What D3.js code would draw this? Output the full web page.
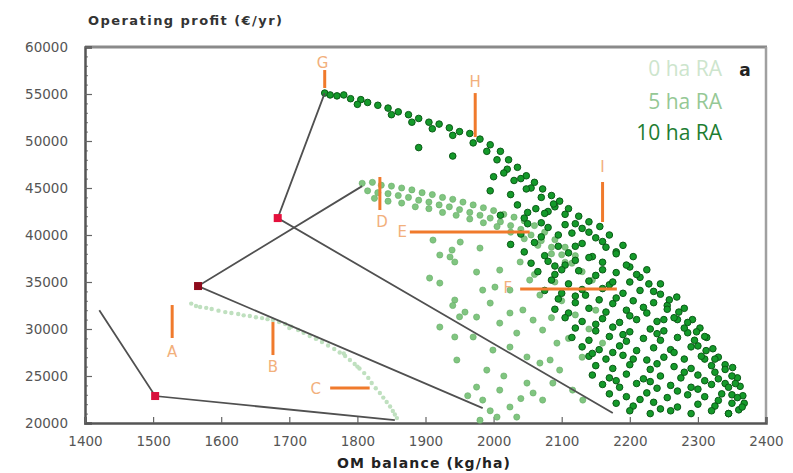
<!DOCTYPE html>
<html>
<head>
<meta charset="utf-8">
<script src="https://cdn.jsdelivr.net/npm/d3@7"></script>
<style>
  body { margin: 0; background: #fff; }
  svg { display: block; }
</style>
</head>
<body>
<svg id="chart" width="793" height="473"></svg>
<script>
// ---- data ----
const xTicks = [1400, 1500, 1600, 1700, 1800, 1900, 2000, 2100, 2200, 2300, 2400]
const yTicks = [20000, 25000, 30000, 35000, 40000, 45000, 50000, 55000, 60000]
const seriesNames = ['0 ha RA', '5 ha RA', '10 ha RA']

// 0 ha RA: narrow pale band
const ha0 = [
  [1556,32700],[1563,32450],[1569,32340],[1578,32250],[1586,32120],[1596,31950],[1606,31800],[1615,31700],
  [1625,31590],[1633,31450],[1642,31380],[1651,31250],[1660,31160],[1668,31050],[1676,30950],[1685,30750],
  [1694,30530],[1703,30250],[1713,29890],[1721,29600],[1730,29250],[1739,28950],[1748,28610],[1757,28250],
  [1766,27870],[1774,27500],[1782,27120],[1789,26700],[1796,26270],[1803,25800],[1810,25310],[1816,24800],
  [1821,24250],[1827,23700],[1833,23190],[1838,22700],[1843,22230],[1848,21750],[1852,21270],[1855,20900],
  [1858,20520],[1700,30100],[1740,29000],[1780,27400],[1800,26000]
]

// 5 ha RA: upper band plus a cloud underneath
const ha5 = [
  // band
  [1807,45500],[1822,45600],[1835,45300],[1850,45200],[1865,45000],[1880,44800],[1895,44500],[1910,44300],
  [1925,44000],[1940,43800],[1955,43500],[1970,43200],[1985,42900],[2000,42600],[2015,42200],[2030,41900],
  [2045,41500],[2060,41000],[2075,40300],[2090,39500],[2105,38700],[2120,37800],
  [1815,44700],[1830,44500],[1845,44400],[1860,44200],[1875,44000],[1890,43700],[1905,43500],[1920,43200],
  [1935,43000],[1950,42700],[1965,42400],[1980,42100],[1995,41800],[2010,41400],[2025,41000],[2040,40600],
  [2055,40000],[2070,39400],[2085,38700],[2100,37900],[2115,37000],[2130,36100],
  [1825,43900],[1845,43600],[1865,43400],[1885,43000],[1905,42800],[1925,42400],[1945,42100],[1965,41700],
  [1985,41300],[2005,40900],[2025,40300],[2045,39600],[2065,38900],[2085,38000],[2105,37100],[2125,36200],
  [2145,35200],
  // cloud
  [1911,39460],[1936,37660],[1951,39250],[1921,37870],[1939,38400],[1943,37130],[1980,38610],[2009,36270],
  [1975,36060],[1906,35420],[1921,34890],[1984,34140],[2002,34460],[1943,33080],[2039,37130],[2053,35210],
  [2024,34140],[2068,33610],
  [1940,32500],[1958,31800],[1950,31300],[1921,30210],[1943,29150],[1946,26700],[1995,32760],[2009,30630],
  [2024,31700],[2034,29570],[1999,27760],[1990,25630],[1975,23820],[1984,22440],[2009,23500],[2024,21700],
  [2049,24250],[2058,23190],[2072,22440],[2087,24250],[2049,27020],[2068,26380],[2083,26700],[2043,32020],
  [2058,30950],[2072,29890],[2024,28080],[2097,25630],[2116,23500],[2131,22440],[2093,28500],[1975,31270],
  [1970,29150],[1980,20300],[2005,20630],[2034,20630],[1962,22900],[2015,25000],[2040,22600],[1995,21300],
  [2100,33000],[2120,31500],[2140,30000],[2110,29000],[2150,32000],[2160,28500],[2130,27000],[2085,31200],
  [2060,35800],[2090,35000]
]

// 10 ha RA: upper band plus a cloud underneath
const ha10 = [
  // band
  [1752,55100],[1760,54900],[1770,54800],[1780,54900],[1790,54500],[1805,54400],[1815,54100],[1830,53800],
  [1845,53500],[1860,53100],[1875,52800],[1890,52400],[1905,52000],[1920,51800],[1935,51400],[1950,51000],
  [1965,50800],[1980,50200],[1995,49600],[2010,48900],[2022,48000],[2035,47200],[2048,46300],[2060,45600],
  [2072,44900],[2085,44200],[2097,43600],[2110,42800],[2125,42000],[2140,41400],[2156,40900],[2170,40000],
  [2190,38900],[2205,37700],[2225,36300],[2245,34800],[2269,33400],[2280,32200],[2292,31000],[2303,30100],
  [2313,29100],[2322,27900],[2330,27000],[2340,26200],[2351,25900],[2358,24800],[2362,23900],[2366,22900],
  [2368,22100],[2360,21400],[2345,21000],
  [1800,53900],[1850,52800],[1880,52000],[1910,51300],[1940,50600],[1970,49800],[1990,48900],[2005,48000],
  [2020,47000],[2040,46000],[2055,45000],[2070,44000],[2090,43000],[2105,42200],[2120,41200],[2140,40300],
  [2160,39300],[2180,38200],[2200,36600],[2215,35500],[2235,34000],[2255,32500],[2270,31000],[2285,29600],
  [2300,28200],[2310,26800],[2325,25400],[2340,24200],[2350,23000],
  // cloud
  [1890,49300],[1940,48400],[2015,46600],
  [2000,46200],[2030,45800],[1995,44700],[2025,44300],[2048,44900],[2035,43200],[2062,42800],[2088,43300],
  [2080,42500],[2010,42100],[2045,41800],[2075,42300],[2050,41200],[2080,40800],[2105,41100],[2130,40700],
  [2040,40100],[2070,39800],[2115,40200],[2150,39700],[2060,39200],[2095,38800],[2130,39100],[2165,38700],
  [2045,38200],[2075,37800],[2110,38100],[2145,37700],[2180,38000],[2080,37200],[2105,36800],[2160,37100],
  [2195,36800],[2065,36100],[2090,35800],[2125,36200],[2150,35700],[2180,36000],[2210,35800],[2085,35200],
  [2110,34800],[2140,35100],[2170,34700],[2200,35000],[2228,34800],[2075,34100],[2100,33800],[2130,34200],
  [2190,33800],[2215,34100],[2245,33700],[2095,33200],[2120,32800],[2155,33100],[2175,32700],[2205,33000],
  [2235,32800],[2258,33100],[2090,32100],[2110,31700],[2140,32200],[2165,31800],[2195,32000],[2225,31700],
  [2255,32100],[2272,31800],[2105,31200],[2130,30800],[2160,31100],[2185,30700],[2210,31000],[2240,30800],
  [2265,31200],[2285,30700],[2120,30100],[2150,29800],[2175,30200],[2200,29700],[2230,30000],[2250,29800],
  [2280,30100],[2298,29700],[2115,29100],[2140,28800],[2170,29200],[2195,28700],[2220,29000],[2245,28800],
  [2270,29100],[2295,28800],[2310,29200],[2130,28100],[2155,27800],[2185,28200],[2210,27700],[2235,28000],
  [2260,27800],[2290,28100],[2312,27700],[2140,27100],[2165,26800],[2190,27200],[2225,26700],[2250,27000],
  [2280,26800],[2305,27100],[2325,26800],[2150,26100],[2175,25800],[2200,26200],[2230,25700],[2265,26000],
  [2290,25800],[2320,26100],[2340,25700],[2145,25100],[2170,24800],[2195,25200],[2220,24700],[2245,25000],
  [2275,24800],[2300,25100],[2330,24700],[2350,25000],[2160,24100],[2185,23800],[2210,24200],[2240,23700],
  [2260,24000],[2290,23800],[2320,24100],[2345,23800],[2170,23100],[2195,22800],[2225,23200],[2255,22700],
  [2285,23000],[2310,22800],[2335,23100],[2358,22700],[2180,22100],[2205,21800],[2235,22200],[2270,21700],
  [2300,22000],[2325,21800],[2350,22100],[2365,21700],[2200,21300],[2230,21000],[2260,21300],[2290,21000],
  [2320,21300],[2345,21000],
  [2050,42400],[2070,41300],[2095,40000],[2120,38800],[2140,37600],[2160,36300],[2175,35000],
  [2025,39000],[2055,37000],[2100,36300],[2135,33600],[2180,33300],[2220,32300],[2150,30500],[2190,29400],
  [2240,29500],[2265,27500],[2205,26800],[2240,26300],[2280,25400],[2310,24500],[2180,24500],[2230,24400],
  [2270,23400],[2215,22500],[2245,21500],[2330,22400],[2300,23600],[2355,24200],[2120,33500],[2160,34300],
  [2200,31400],[2250,31000],[2145,27400],[2175,27500],[2090,36700],[2120,37300]
]

// trade-off lines, one per land option; middle vertex is the red point
const line0 = [[1421,32000],[1503,22870],[1855,20300]]
const line5 = [[1807,45200],[1566,34570],[1984,21590]]
const line10 = [[1752,55100],[1683,41800],[2175,21060]]

// lettered markers: segment ends and label anchor
const markerLetters = ['A', 'B', 'C', 'D', 'E', 'F', 'G', 'H', 'I']
const markerFrom = [[1528,32550],[1676,30740],[1760,23720],[1833,46170],[1877,40320],[2039,34250],[1752,57550],[1973,55100],[2160,45640]]
const markerTo   = [[1528,29040],[1676,27230],[1818,23720],[1833,42660],[2053,40320],[2181,34250],[1752,55640],[1973,50420],[2160,41380]]
const markerText = [[1528,27550],[1676,25950],[1739,23610],[1836,41380],[1866,40320],[2021,34360],[1749,58300],[1973,56270],[2160,47230]]

// ---- drawing ----
const svg = d3.select('#chart')
const mLeft = 85, mRight = 766, mTop = 47, mBottom = 423

const x = d3.scaleLinear().domain([1400, 2400]).range([mLeft, mRight])
const y = d3.scaleLinear().domain([20000, 60000]).range([mBottom, mTop])

svg.append('rect').attr('width', 793).attr('height', 473).attr('fill', '#fff')

// frame: light top/right, darker left/bottom
svg.append('line').attr('x1', mLeft).attr('x2', mRight + 1).attr('y1', mTop).attr('y2', mTop)
  .attr('stroke', '#8a8a8a').attr('stroke-width', 3)
svg.append('line').attr('x1', mRight).attr('x2', mRight).attr('y1', mTop).attr('y2', mBottom)
  .attr('stroke', '#a0a0a0').attr('stroke-width', 2.5)

// minor ticks along y axis
svg.append('g')
  .attr('transform', `translate(${mLeft},0)`)
  .call(d3.axisLeft(y).ticks(40).tickSize(-3).tickFormat(''))
  .call(g => g.select('.domain').remove())
  .selectAll('line').attr('stroke', '#777')

const yAxis = svg.append('g')
  .attr('transform', `translate(${mLeft},0)`)
  .call(d3.axisLeft(y).tickValues(yTicks).tickSize(-7).tickPadding(17).tickFormat(d3.format('d')))
const xAxis = svg.append('g')
  .attr('transform', `translate(0,${mBottom})`)
  .call(d3.axisBottom(x).tickValues(xTicks).tickSize(-6).tickPadding(13).tickFormat(d3.format('d')))

for (const ax of [xAxis, yAxis]) {
  ax.select('.domain').attr('stroke', '#555').attr('stroke-width', 2.5)
  ax.selectAll('.tick line').attr('stroke', '#666').attr('stroke-width', 1.2)
  ax.selectAll('.tick text')
    .attr('fill', '#555')
    .style('font-family', 'DejaVu Sans, sans-serif')
    .style('font-size', '13.5px')
}

// scatter series
const plot = svg.append('g')
plot.selectAll('circle.s5').data(ha5).join('circle')
  .attr('class', 's5')
  .attr('cx', d => x(d[0])).attr('cy', d => y(d[1]))
  .attr('r', 3.1)
  .attr('fill', '#80c580').attr('stroke', '#66ad66').attr('stroke-width', 0.6)
plot.selectAll('circle.s0').data(ha0).join('circle')
  .attr('class', 's0')
  .attr('cx', d => x(d[0])).attr('cy', d => y(d[1]))
  .attr('r', 2.2)
  .attr('fill', '#bfe0bf')
plot.selectAll('circle.s10').data(ha10).join('circle')
  .attr('class', 's10')
  .attr('cx', d => x(d[0])).attr('cy', d => y(d[1]))
  .attr('r', 3.3)
  .attr('fill', '#149a2a').attr('stroke', '#0b5a17').attr('stroke-width', 1)

// trade-off lines with red vertex
const lineGen = d3.line().x(d => x(d[0])).y(d => y(d[1]))
const lines = [line0, line5, line10]
const redColors = ['#d8103c', '#8e0b1c', '#e4103c']
lines.forEach((ln, i) => {
  svg.append('path').datum(ln)
    .attr('d', lineGen)
    .attr('fill', 'none')
    .attr('stroke', '#505050')
    .attr('stroke-width', 1.8)
  svg.append('rect')
    .attr('x', x(ln[1][0]) - 4).attr('y', y(ln[1][1]) - 4)
    .attr('width', 8).attr('height', 8)
    .attr('fill', redColors[i])
})

// lettered orange markers
const mk = svg.append('g')
markerLetters.forEach((t, i) => {
  mk.append('line')
    .attr('x1', x(markerFrom[i][0])).attr('y1', y(markerFrom[i][1]))
    .attr('x2', x(markerTo[i][0])).attr('y2', y(markerTo[i][1]))
    .attr('stroke', '#f07a2c').attr('stroke-width', 3)
  mk.append('text')
    .attr('x', x(markerText[i][0])).attr('y', y(markerText[i][1]))
    .attr('text-anchor', 'middle')
    .attr('dominant-baseline', 'central')
    .style('font-family', 'DejaVu Sans, sans-serif')
    .style('font-size', '15px')
    .attr('fill', '#f2b07c')
    .text(t)
})

// legend
const legendColors = ['#cde5cd', '#95c895', '#1e7d32']
const legendBase = [76, 109, 140]
seriesNames.forEach((name, i) => {
  svg.append('text')
    .attr('x', 722).attr('y', legendBase[i])
    .attr('text-anchor', 'end')
    .style('font-family', 'Open Sans, sans-serif')
    .style('font-size', '21px')
    .attr('fill', legendColors[i])
    .text(name)
})
svg.append('text')
  .attr('x', 745).attr('y', 76)
  .attr('text-anchor', 'middle')
  .style('font-family', 'DejaVu Sans, sans-serif')
  .style('font-size', '17px')
  .style('font-weight', 'bold')
  .attr('fill', '#222')
  .text('a')

// axis titles
svg.append('text')
  .attr('x', 88).attr('y', 25)
  .style('font-family', 'DejaVu Sans, sans-serif')
  .style('font-size', '13px')
  .style('font-weight', 'bold')
  .attr('fill', '#333')
  .attr('textLength', 194)
  .text('Operating profit (€/yr)')
svg.append('text')
  .attr('x', 337).attr('y', 468)
  .style('font-family', 'DejaVu Sans, sans-serif')
  .style('font-size', '14px')
  .style('font-weight', 'bold')
  .attr('fill', '#222')
  .attr('textLength', 173)
  .text('OM balance (kg/ha)')
</script>
</body>
</html>
